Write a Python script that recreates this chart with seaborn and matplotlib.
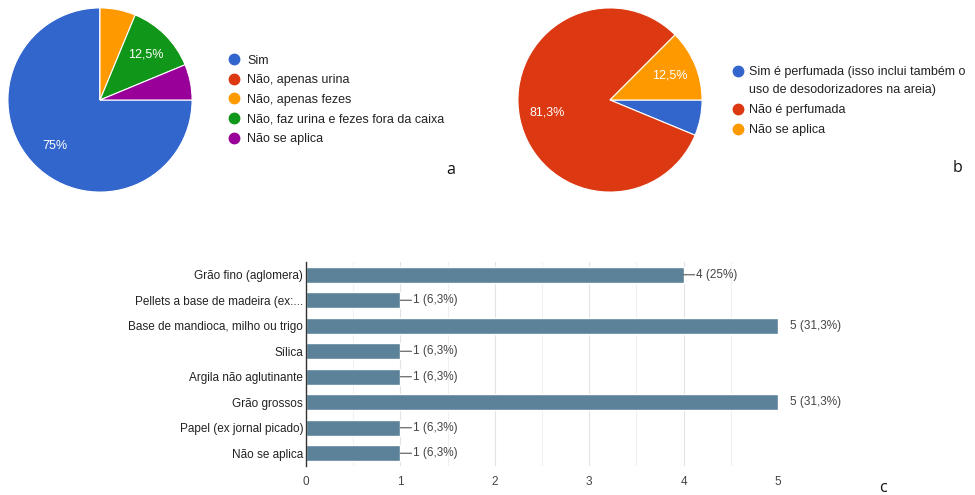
import matplotlib
matplotlib.use("Agg")
import matplotlib.pyplot as plt
import seaborn as sns
import pandas as pd
import numpy as np

# ---------------- data ----------------
a_labels = ["Sim", "Não, apenas urina", "Não, apenas fezes",
            "Não, faz urina e fezes fora da caixa", "Não se aplica"]
a_values = [12, 0, 1, 2, 1]
a_pct_labels = ["75%", "", "", "12,5%", ""]
a_colors = ["#3366cc", "#dc3912", "#ff9900", "#109618", "#990099"]

b_labels = ["Sim é perfumada (isso inclui também o\nuso de desodorizadores na areia)",
            "Não é perfumada", "Não se aplica"]
b_values = [1, 13, 2]
b_pct_labels = ["", "81,3%", "12,5%"]
b_colors = ["#3366cc", "#dc3912", "#ff9900"]

c_categories = ["Grão fino (aglomera)", "Pellets a base de madeira (ex:...",
                "Base de mandioca, milho ou trigo", "Sílica", "Argila não aglutinante",
                "Grão grossos", "Papel (ex jornal picado)", "Não se aplica"]
c_values = [4, 1, 5, 1, 1, 5, 1, 1]
c_value_labels = ["4 (25%)", "1 (6,3%)", "5 (31,3%)", "1 (6,3%)", "1 (6,3%)",
                  "5 (31,3%)", "1 (6,3%)", "1 (6,3%)"]
c_ticks = [0, 1, 2, 3, 4, 5]
bar_color = "#5b8298"

# ---------------- style ----------------
sns.set_theme(style="white")
plt.rcParams["font.family"] = ["Liberation Sans", "DejaVu Sans"]

W, H = 975, 495
fig = plt.figure(figsize=(W / 100, H / 100), dpi=100)

LEG_FS = 9
MS = 7.5


def px_rect(x0, y0, w, h):
    return [x0 / W, 1 - (y0 + h) / H, w / W, h / H]


def draw_pie(cx, cy, r, values, colors, pct_labels):
    ax = fig.add_axes(px_rect(cx - r, cy - r, 2 * r, 2 * r))
    wedges, _ = ax.pie(values, colors=colors, startangle=0, counterclock=False,
                       radius=1, wedgeprops=dict(edgecolor="white", linewidth=0.8))
    for w, lab in zip(wedges, pct_labels):
        if lab:
            ang = np.deg2rad((w.theta1 + w.theta2) / 2)
            ax.text(0.7 * np.cos(ang), 0.7 * np.sin(ang), lab, color="white",
                    ha="center", va="center", fontsize=9)
    ax.set_xlim(-1.01, 1.01)
    ax.set_ylim(-1.01, 1.01)
    ax.set_aspect("equal")
    ax.axis("off")


def legend_entry(xm, xt, y, lab, col):
    fig.add_artist(plt.Line2D([xm / W], [1 - y / H], marker="o",
                              markersize=MS, color=col, linestyle=""))
    if "\n" in lab:
        first, second = lab.split("\n")
        fig.text(xt / W, 1 - y / H, first, ha="left", va="center_baseline",
                 fontsize=LEG_FS, color="#222222")
        fig.text(xt / W, 1 - (y + 17) / H, second, ha="left", va="center_baseline",
                 fontsize=LEG_FS, color="#222222")
    else:
        fig.text(xt / W, 1 - y / H, lab, ha="left", va="center_baseline",
                 fontsize=LEG_FS, color="#222222")


# pie a
draw_pie(100, 100, 93, a_values, a_colors, a_pct_labels)
for y, lab, col in zip([59, 78.5, 98, 118, 137.5], a_labels, a_colors):
    legend_entry(234, 247, y, lab, col)

# pie b
draw_pie(610, 100, 93, b_values, b_colors, b_pct_labels)
for y, lab, col in zip([71, 109, 129], b_labels, b_colors):
    legend_entry(738, 749, y, lab, col)

# bar chart c
axc = fig.add_axes(px_rect(306, 262, 472, 204))
df = pd.DataFrame({"cat": c_categories, "val": c_values})
sns.barplot(data=df, x="val", y="cat", orient="h", color=bar_color,
            saturation=1, width=0.63, ax=axc)
axc.set_xlim(0, 5)
axc.set_ylim(7.5, -0.5)
axc.set_xticks(c_ticks)
axc.set_xticks(np.arange(0.5, 5, 1), minor=True)
axc.grid(axis="x", which="major", color="#e3e3e3", linewidth=0.8)
axc.grid(axis="x", which="minor", color="#f0f0f0", linewidth=0.8)
axc.grid(axis="y", visible=False)
axc.set_axisbelow(True)
for s in ["top", "right", "bottom"]:
    axc.spines[s].set_visible(False)
axc.spines["left"].set_color("#333333")
axc.spines["left"].set_linewidth(1.0)
axc.set_xlabel("")
axc.set_ylabel("")
axc.tick_params(axis="both", which="both", length=0)
axc.tick_params(axis="x", labelsize=8.5, labelcolor="#444444", pad=7)
axc.tick_params(axis="y", labelsize=8.5, labelcolor="#222222", pad=2)

vmax = max(c_values)
for i, (v, lab) in enumerate(zip(c_values, c_value_labels)):
    if v < vmax:
        axc.annotate("", xy=(v, i), xytext=(8.0, 0), textcoords="offset points",
                     arrowprops=dict(arrowstyle="-", color="#555555", lw=0.8,
                                     shrinkA=0, shrinkB=0), annotation_clip=False)
        off = 9.0
    else:
        off = 8.5
    axc.annotate(lab, xy=(v, i), xytext=(off, 0), textcoords="offset points",
                 ha="left", va="center", fontsize=8.5, color="#444444",
                 annotation_clip=False)

# panel letters
for x, y, t in [(451, 170, "a"), (958, 168, "b"), (883, 488, "c")]:
    fig.text(x / W, 1 - y / H, t, ha="center", va="center", fontsize=11.5,
             family=["Open Sans", "DejaVu Sans"], color="#111111")

fig.savefig("out.png", dpi=100, facecolor="white")
